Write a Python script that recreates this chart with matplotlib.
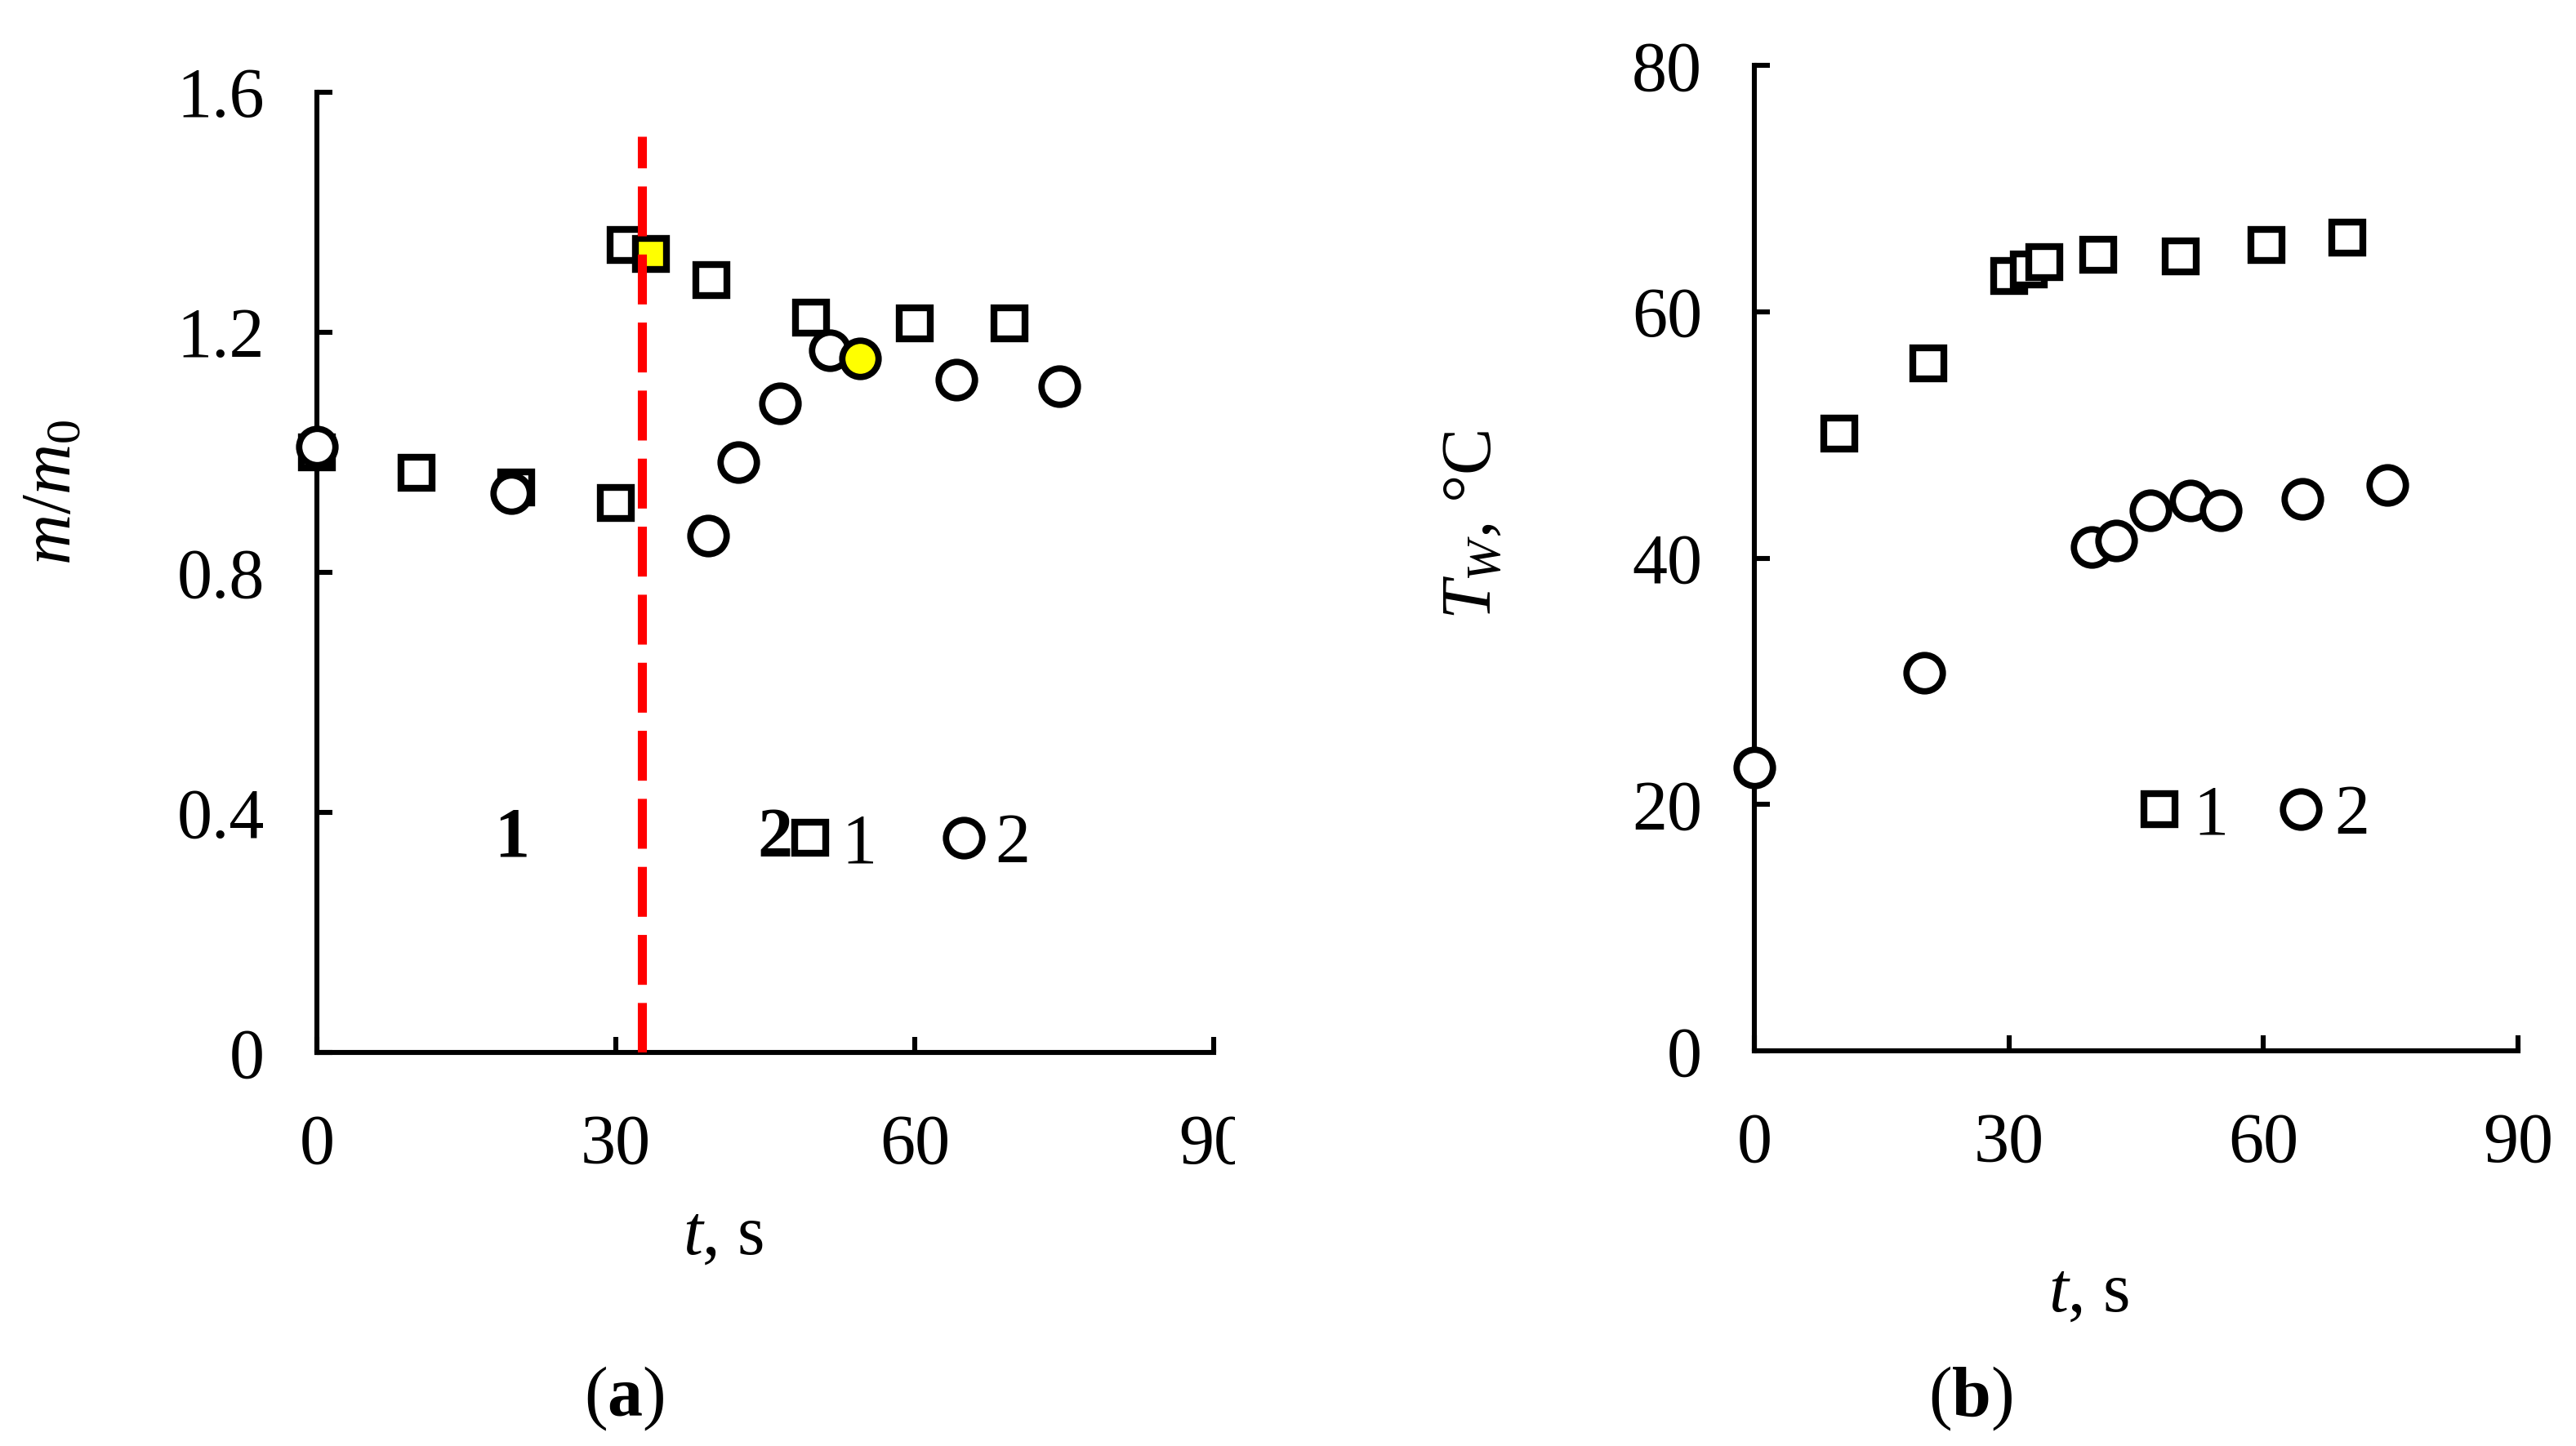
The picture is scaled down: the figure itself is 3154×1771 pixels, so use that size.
import matplotlib
matplotlib.use("Agg")
import matplotlib.pyplot as plt
from matplotlib.transforms import Bbox, TransformedBbox

plt.rcParams['font.family'] = ['Liberation Serif', 'DejaVu Serif']
plt.rcParams['mathtext.fontset'] = 'custom'
plt.rcParams['mathtext.rm'] = 'Liberation Serif'
plt.rcParams['mathtext.it'] = 'Liberation Serif:italic'
plt.rcParams['mathtext.bf'] = 'Liberation Serif:bold'

# ---------------- data: panel (a) ----------------
t_sq_a = [0, 10, 20, 30, 31, 39.6, 49.6, 60, 69.5]
m_sq_a = [1.00, 0.966, 0.942, 0.915, 1.345, 1.287, 1.225, 1.215, 1.215]
t_ci_a = [0, 19.5, 39.3, 42.3, 46.5, 51.5, 64.2, 74.5]
m_ci_a = [1.01, 0.932, 0.861, 0.984, 1.082, 1.170, 1.121, 1.110]
t_sq_hl = [33.5]
m_sq_hl = [1.33]
t_ci_hl = [54.5]
m_ci_hl = [1.157]
t_event = 32.6
m_event_top = 1.527

# ---------------- data: panel (b) ----------------
t_sq_b = [10, 20.5, 30, 32.3, 34.2, 40.5, 50.2, 60.4, 69.9]
T_sq_b = [50.1, 55.8, 62.9, 63.4, 64.0, 64.6, 64.5, 65.4, 66.0]
t_ci_b = [0, 20, 39.8, 42.6, 46.7, 51.4, 55, 64.6, 74.6]
T_ci_b = [23.0, 30.7, 40.9, 41.4, 43.9, 44.7, 43.9, 44.8, 45.9]

xticks = [0, 30, 60, 90]
yticks_a = [0, 0.4, 0.8, 1.2, 1.6]
yticklabels_a = ['0', '0.4', '0.8', '1.2', '1.6']
yticks_b = [0, 20, 40, 60, 80]

FS = 31
W, H = 3154, 1771
DPI = 200
fig = plt.figure(figsize=(W / DPI, H / DPI), dpi=DPI)

axa = fig.add_axes([388 / W, 1 - 1289 / H, (1486 - 388) / W, (1289 - 113) / H])
axb = fig.add_axes([2148 / W, 1 - 1287 / H, (3083 - 2148) / W, (1287 - 80) / H])

sq_kw = dict(marker='s', ms=14, mew=3.0, mec='black', mfc='white', ls='none', clip_on=False, zorder=3)
ci_kw = dict(marker='o', ms=16, mew=2.8, mec='black', mfc='white', ls='none', clip_on=False, zorder=3)

def style(ax, yticks, ylabels, ylim):
    for s in ['top', 'right']:
        ax.spines[s].set_visible(False)
    for s in ['left', 'bottom']:
        ax.spines[s].set_linewidth(2.2)
    ax.set_xlim(0, 90)
    ax.set_ylim(*ylim)
    ax.set_xticks(xticks)
    ax.set_yticks(yticks)
    ax.set_yticklabels(ylabels)
    ax.tick_params(direction='in', length=7, width=2.2, labelsize=FS)
    ax.tick_params(axis='x', pad=27)
    ax.tick_params(axis='y', pad=23)

# panel a
la1, = axa.plot(t_sq_a, m_sq_a, **sq_kw)
la2, = axa.plot(t_ci_a, m_ci_a, **ci_kw)
axa.plot(t_sq_hl, m_sq_hl, **{**sq_kw, 'mfc': '#FFFF00'})
axa.plot(t_ci_hl, m_ci_hl, **{**ci_kw, 'mfc': '#FFFF00'})
axa.plot([t_event, t_event], [0, m_event_top], color='#FF0000', lw=4, ls=(0, (5.5, 2.0)), zorder=4)
style(axa, yticks_a, yticklabels_a, (0, 1.6))
axa.text(19.6, 0.355, '1', fontsize=FS, fontweight='bold', ha='center', va='center')
axa.text(46.0, 0.355, '2', fontsize=FS, fontweight='bold', ha='center', va='center')
axa.legend([la1, la2], ['1', '2'], ncol=2, frameon=False, fontsize=FS,
           loc='center left', bbox_to_anchor=(47.4, 0.345), bbox_transform=axa.transData,
           handlelength=0.6, handletextpad=0.15, columnspacing=0.93, borderpad=0, borderaxespad=0)
axa.set_ylabel(r'$m/m_0$', fontsize=FS)
axa.yaxis.set_label_coords(-0.258, 0.583)
axa.set_xlabel(r'$t$, s', fontsize=FS)
axa.xaxis.set_label_coords(0.453, -0.158)

# panel b
lb1, = axb.plot(t_sq_b, T_sq_b, **sq_kw)
lb2, = axb.plot(t_ci_b, T_ci_b, **ci_kw)
style(axb, yticks_b, [str(v) for v in yticks_b], (0, 80))
axb.legend([lb1, lb2], ['1', '2'], ncol=2, frameon=False, fontsize=FS,
           loc='center left', bbox_to_anchor=(45.3, 19.0), bbox_transform=axb.transData,
           handlelength=0.6, handletextpad=0.18, columnspacing=0.72, borderpad=0, borderaxespad=0)
axb.set_ylabel(r'$T_W$, °C', fontsize=FS)
axb.yaxis.set_label_coords(-0.326, 0.534)
axb.set_xlabel(r'$t$, s', fontsize=FS)
axb.xaxis.set_label_coords(0.438, -0.214)

fig.text(764 / W, 1 - 1713 / H, '(' + r'$\mathbf{a}$' + ')', fontsize=FS, ha='center', va='center')
fig.text(2413 / W, 1 - 1713 / H, '(' + r'$\mathbf{b}$' + ')', fontsize=FS, ha='center', va='center')

# the "90" label of panel (a) is cut off in the original
clip = TransformedBbox(Bbox([[0, 0], [1512 / W, 1]]), fig.transFigure)
for lab in axa.get_xticklabels():
    lab.set_clip_box(clip)
    lab.set_clip_on(True)

fig.savefig('out.png', dpi=DPI)
